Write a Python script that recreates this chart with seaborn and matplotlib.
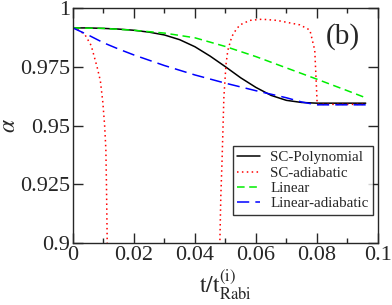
import numpy as np
import pandas as pd
import matplotlib
matplotlib.use("Agg")
import matplotlib.pyplot as plt
import seaborn as sns
from matplotlib.ticker import MultipleLocator

# curves
x_poly = [0, 0.005, 0.01, 0.015, 0.02, 0.025, 0.03, 0.035, 0.04, 0.045, 0.05,
          0.055, 0.06, 0.065, 0.07, 0.075, 0.08, 0.085, 0.09, 0.096]
y_poly = [0.9915, 0.9915, 0.9913, 0.991, 0.9905, 0.9897, 0.9885, 0.9865, 0.9835, 0.9795, 0.975,
          0.9703, 0.9662, 0.9628, 0.9607, 0.9598, 0.9595, 0.9595, 0.9595, 0.9595]

x_adia1 = [0, 0.002, 0.004, 0.006, 0.008, 0.009, 0.0098, 0.0104, 0.0108, 0.011, 0.0112, 0.0113]
y_adia1 = [0.9915, 0.9905, 0.9885, 0.984, 0.9745, 0.969, 0.960, 0.950, 0.940, 0.925, 0.905, 0.895]

x_adia2 = [0.0481, 0.0485, 0.0489, 0.0495, 0.0502, 0.0508, 0.0521, 0.0535, 0.0548, 0.058, 0.062,
           0.0669, 0.0744, 0.0777, 0.0793, 0.0799, 0.0801, 0.085, 0.09, 0.096]
y_adia2 = [0.895, 0.92, 0.935, 0.962, 0.976, 0.982, 0.9878, 0.9908, 0.9928, 0.9947, 0.9952,
           0.9947, 0.9928, 0.9906, 0.982, 0.965, 0.959, 0.959, 0.959, 0.959]

x_lin = [0, 0.01, 0.02, 0.03, 0.04, 0.05, 0.06, 0.07, 0.08, 0.09, 0.096]
y_lin = [0.9915, 0.9913, 0.9905, 0.9893, 0.9873, 0.9836, 0.9793, 0.9745, 0.9697, 0.9648, 0.9618]

x_linad = [0, 0.005, 0.01, 0.015, 0.02, 0.03, 0.04, 0.05, 0.06, 0.07, 0.075, 0.08, 0.09, 0.096]
y_linad = [0.9915, 0.9885, 0.9852, 0.9825, 0.980, 0.9755, 0.9715, 0.968, 0.9648, 0.9618, 0.9600,
           0.9588, 0.9588, 0.9588]

xticks = [0, 0.02, 0.04, 0.06, 0.08, 0.1]
xticklabels = ["0", "0.02", "0.04", "0.06", "0.08", "0.1"]
yticks = [0.9, 0.925, 0.95, 0.975, 1.0]
yticklabels = ["0.9", "0.925", "0.95", "0.975", "1"]

sns.set_style("ticks")
plt.rcParams['font.family'] = ['Liberation Serif', 'DejaVu Serif']
plt.rcParams['mathtext.fontset'] = 'stix'

fig = plt.figure(figsize=(3.92, 3.05), dpi=100)
ax = fig.add_axes([0.186, 0.203, 0.778, 0.771])

sns.lineplot(x=x_poly, y=y_poly, ax=ax, color="black", lw=1.1, sort=False,
             estimator=None, label="SC-Polynomial")
sns.lineplot(x=x_adia1, y=y_adia1, ax=ax, color="red", lw=1.1, sort=False,
             estimator=None, label="SC-adiabatic", linestyle=(0, (1, 2.2)))
sns.lineplot(x=x_adia2, y=y_adia2, ax=ax, color="red", lw=1.1, sort=False,
             estimator=None, linestyle=(0, (1, 2.2)))
sns.lineplot(x=x_lin, y=y_lin, ax=ax, color="#00ee00", lw=1.1, sort=False,
             estimator=None, label="Linear", linestyle=(0, (5, 3)))
sns.lineplot(x=x_linad, y=y_linad, ax=ax, color="blue", lw=1.1, sort=False,
             estimator=None, label="Linear-adiabatic", linestyle=(0, (8, 4)))

ax.set_xlim(0, 0.1)
ax.set_ylim(0.9, 1.0)
ax.set_xticks(xticks)
ax.set_xticklabels(xticklabels)
ax.set_yticks(yticks)
ax.set_yticklabels(yticklabels)
ax.xaxis.set_minor_locator(MultipleLocator(0.01))
ax.tick_params(which="both", direction="in", top=True, right=True, labelsize=16, width=1, pad=2)
ax.tick_params(which="major", length=7)
ax.tick_params(which="minor", length=3.6)
for s in ax.spines.values():
    s.set_linewidth(1)

ax.set_xlabel(r"$\mathrm{t/t}^{(\mathrm{i})}_{\mathrm{Rabi}}$", fontsize=17, labelpad=2)
ax.set_ylabel(r"$\alpha$", fontsize=17, labelpad=0)
ax.yaxis.set_label_coords(-0.175, 0.5)

ax.text(0.885, 0.88, "(b)", transform=ax.transAxes, fontsize=21, ha="center", va="center")

leg = ax.legend(loc="lower right", bbox_to_anchor=(0.985, 0.12), fontsize=10.8,
                frameon=True, fancybox=False, handlelength=1.5, borderpad=0.3,
                labelspacing=0.12, handletextpad=0.7, borderaxespad=0)
leg.get_frame().set_edgecolor("black")
leg.get_frame().set_linewidth(1)

fig.savefig("out.png", dpi=100)
